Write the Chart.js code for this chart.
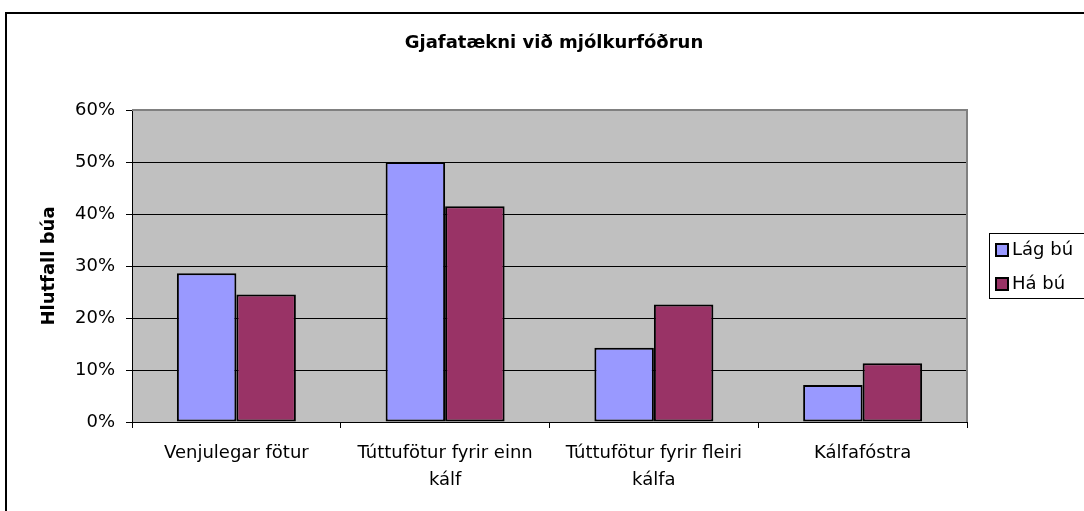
<!DOCTYPE html>
<html>
<head>
<meta charset="utf-8">
<script src="https://cdn.jsdelivr.net/npm/chart.js@4.4.1/dist/chart.umd.min.js"></script>
<style>
  html, body { margin: 0; padding: 0; background: #ffffff; }
  #wrap { width: 1084px; height: 511px; position: relative; }
</style>
</head>
<body>
<div id="wrap"><canvas id="c" width="1084" height="511"></canvas></div>
<script>
// ---- data ----
const chartTitle = 'Gjafatækni við mjólkurfóðrun';
const yAxisTitle = 'Hlutfall búa';
const categories = [
  ['Venjulegar fötur'],
  ['Túttufötur fyrir einn', 'kálf'],
  ['Túttufötur fyrir fleiri', 'kálfa'],
  ['Kálfafóstra']
];
const seriesNames = ['Lág bú', 'Há bú'];
const lowFarms = [28.6, 50.0, 14.3, 7.1];
const highFarms = [24.5, 41.5, 22.6, 11.3];
const yTickMax = 60;
const yTickStep = 10;

Chart.defaults.font.family = "'DejaVu Sans', sans-serif";
Chart.defaults.font.size = 18;
Chart.defaults.color = '#000000';

const frame = {
  id: 'frame',
  beforeDraw(chart) {
    const {ctx, chartArea: a} = chart;
    ctx.save();
    ctx.fillStyle = '#ffffff';
    ctx.fillRect(0, 0, chart.width, chart.height);
    // outer chart border
    ctx.strokeStyle = '#000000';
    ctx.lineWidth = 2;
    ctx.strokeRect(6, 13, chart.width + 20, chart.height + 20);
    // plot area background
    ctx.fillStyle = '#c0c0c0';
    ctx.fillRect(a.left, a.top, a.right - a.left, a.bottom - a.top);
    ctx.restore();
  },
  beforeDatasetsDraw(chart) {
    const {ctx, chartArea: a} = chart;
    ctx.save();
    ctx.strokeStyle = '#808080';
    ctx.lineWidth = 2;
    ctx.beginPath();
    ctx.moveTo(a.left, a.top);
    ctx.lineTo(a.right, a.top);
    ctx.lineTo(a.right, a.bottom);
    ctx.stroke();
    ctx.restore();
  },
  afterDraw(chart) {
    const {ctx} = chart;
    const bx = 989, by = 233, bh = 65;
    ctx.save();
    ctx.fillStyle = '#ffffff';
    ctx.fillRect(bx, by, chart.width - bx + 10, bh);
    ctx.strokeStyle = '#000000';
    ctx.lineWidth = 1;
    ctx.strokeRect(bx + 0.5, by + 0.5, chart.width - bx + 10, bh);
    ctx.font = "18px 'DejaVu Sans', sans-serif";
    ctx.textBaseline = 'middle';
    ctx.textAlign = 'left';
    chart.data.datasets.forEach((ds, i) => {
      const cy = 250 + i * 34;
      ctx.fillStyle = ds.backgroundColor;
      ctx.fillRect(996, cy - 6, 12, 12);
      ctx.strokeStyle = '#000000';
      ctx.lineWidth = 2;
      ctx.strokeRect(996, cy - 6, 12, 12);
      ctx.fillStyle = '#000000';
      ctx.fillText(ds.label, 1012, cy);
    });
    ctx.restore();
  }
};

new Chart(document.getElementById('c'), {
  type: 'bar',
  data: {
    labels: categories,
    datasets: [
      { label: seriesNames[0], data: lowFarms, backgroundColor: '#9999ff', borderColor: '#000000', borderWidth: 2, borderSkipped: false },
      { label: seriesNames[1], data: highFarms, backgroundColor: '#993366', borderColor: '#000000', borderWidth: 2, borderSkipped: false }
    ]
  },
  options: {
    responsive: false,
    animation: false,
    devicePixelRatio: 1,
    layout: { padding: { left: 24, right: 0, top: 0, bottom: 0 } },
    datasets: { bar: { categoryPercentage: 0.57, barPercentage: 1.0 } },
    plugins: {
      legend: { display: false },
      tooltip: { enabled: false },
      title: {
        display: true,
        text: chartTitle,
        font: { size: 18, weight: 'bold' },
        color: '#000000',
        padding: { top: 32.6, bottom: 55.8 }
      }
    },
    scales: {
      x: {
        afterFit(s) { s.height = 89; },
        grid: { display: true, drawOnChartArea: false, drawTicks: true, tickLength: 6, color: '#000000', offset: true },
        border: { display: true, color: '#000000', width: 1 },
        ticks: { padding: 12, maxRotation: 0, autoSkip: false, font: { size: 18, lineHeight: 1.5 }, color: '#000000' }
      },
      y: {
        min: 0,
        max: yTickMax,
        afterFit(s) { s.width = 108; },
        grid: {
          drawTicks: true,
          tickLength: 6,
          color: (c) => (c.tick && c.tick.value === yTickMax) ? '#808080' : '#000000',
          tickColor: '#000000'
        },
        border: { display: true, color: '#000000', width: 1 },
        ticks: { stepSize: yTickStep, padding: 11, color: '#000000', callback: (v) => v + '%' },
        title: {
          display: true,
          text: yAxisTitle,
          font: { size: 18, weight: 'bold' },
          color: '#000000',
          padding: { top: 15, bottom: 0 }
        }
      },
      legendSpace: {
        type: 'linear',
        axis: 'y',
        position: 'right',
        afterFit(s) { s.width = 117; },
        grid: { display: false },
        border: { display: false },
        ticks: { display: false }
      }
    }
  },
  plugins: [frame]
});
</script>
</body>
</html>
